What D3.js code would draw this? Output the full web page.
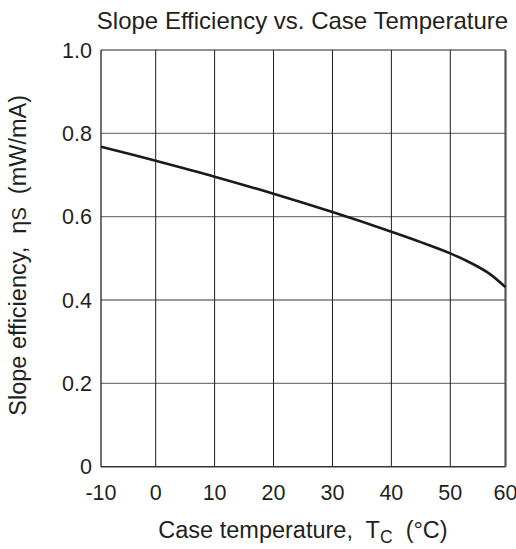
<!DOCTYPE html>
<html>
<head>
<meta charset="utf-8">
<script src="https://cdn.jsdelivr.net/npm/d3@7/dist/d3.min.js"></script>
<style>
  html, body { margin: 0; padding: 0; background: #fff; }
  svg { display: block; font-family: "Liberation Sans", Arial, sans-serif; }
</style>
</head>
<body>
<svg id="chart" width="516" height="549"></svg>
<script>
// Data
const temperatures = [-10, 0, 10, 20, 30, 40, 45, 50, 54, 57, 60];
const slopeEff     = [0.768, 0.734, 0.696, 0.655, 0.611, 0.564, 0.539, 0.512, 0.487, 0.464, 0.431];
const xTicks = [-10, 0, 10, 20, 30, 40, 50, 60];
const yTicks = [0, 0.2, 0.4, 0.6, 0.8, 1.0];
const yTickLabels = ["0", "0.2", "0.4", "0.6", "0.8", "1.0"];

(function () {
const svg = d3.select("#chart");
const pL = 101, pR = 505.5, pT = 50, pB = 466.7;

// Original chart has slightly narrower end intervals
const x = d3.scaleLinear().domain([-10, 0, 50, 60]).range([pL, 155.7, 450.3, pR]);
const y = d3.scaleLinear().domain([0, 1]).range([pB, pT]);

// horizontal grid
svg.append("g").selectAll("line").data(yTicks.filter(d => d > 0 && d < 1)).join("line")
  .attr("x1", pL).attr("x2", pR)
  .attr("y1", d => y(d)).attr("y2", d => y(d))
  .attr("stroke", "#7a7a7a").attr("stroke-width", 1.3);

// vertical grid
svg.append("g").selectAll("line").data(xTicks.filter(d => d > -10 && d < 60)).join("line")
  .attr("x1", d => x(d)).attr("x2", d => x(d))
  .attr("y1", pT).attr("y2", pB)
  .attr("stroke", "#1e1e1e").attr("stroke-width", 1);

// frame
svg.append("line").attr("x1", pL).attr("x2", pR).attr("y1", pT).attr("y2", pT)
  .attr("stroke", "#222").attr("stroke-width", 1.2);
svg.append("line").attr("x1", pL).attr("x2", pR).attr("y1", pB).attr("y2", pB)
  .attr("stroke", "#333").attr("stroke-width", 1.5);
svg.append("line").attr("x1", pL).attr("x2", pL).attr("y1", pT).attr("y2", pB)
  .attr("stroke", "#222").attr("stroke-width", 1.3);
svg.append("line").attr("x1", pR).attr("x2", pR).attr("y1", pT).attr("y2", pB)
  .attr("stroke", "#555").attr("stroke-width", 2.2);

// curve
const line = d3.line().x((d, i) => x(temperatures[i])).y(d => y(d)).curve(d3.curveCatmullRom.alpha(0.5));
svg.append("path").datum(slopeEff).attr("d", line)
  .attr("fill", "none").attr("stroke", "#1a1a1a").attr("stroke-width", 2.6);

// x tick labels
svg.append("g").selectAll("text").data(xTicks).join("text")
  .attr("x", d => x(d)).attr("y", 500)
  .attr("text-anchor", "middle").attr("font-size", 21.5).attr("fill", "#231f20")
  .text(d => d);

// y tick labels
svg.append("g").selectAll("text").data(yTicks).join("text")
  .attr("x", 92).attr("y", d => y(d) + 7.5)
  .attr("text-anchor", "end").attr("font-size", 21.5).attr("fill", "#231f20")
  .text((d, i) => yTickLabels[i]);

// title
svg.append("text").attr("x", 302.5).attr("y", 28.5).attr("text-anchor", "middle")
  .attr("font-size", 24).attr("fill", "#231f20")
  .text("Slope Efficiency vs. Case Temperature");

// x label
const xl = svg.append("text").attr("x", 303).attr("y", 538).attr("text-anchor", "middle")
  .attr("font-size", 23.5).attr("fill", "#231f20").attr("xml:space", "preserve");
xl.append("tspan").text("Case temperature,  T");
xl.append("tspan").attr("font-size", 17.5).attr("dy", 5).text("C");
xl.append("tspan").attr("dy", -5).text("  (°C)");

// y label
const yl = svg.append("text").attr("transform", "translate(26," + ((pT + pB) / 2 - 3) + ") rotate(-90)")
  .attr("text-anchor", "middle").attr("font-size", 23.5).attr("fill", "#231f20")
  .attr("xml:space", "preserve");
yl.append("tspan").text("Slope efficiency,  η");
yl.append("tspan").attr("font-size", 20).text("S");
yl.append("tspan").text("  (mW/mA)");
})();
</script>
</body>
</html>
